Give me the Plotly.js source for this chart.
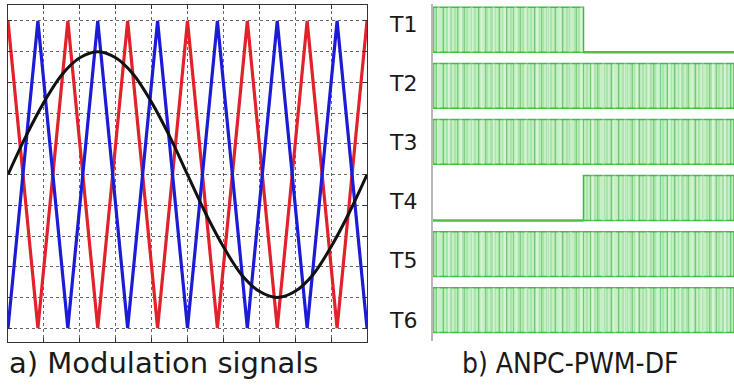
<!DOCTYPE html>
<html>
<head>
<meta charset="utf-8">
<script src="https://cdn.plot.ly/plotly-3.0.1.min.js"></script>
<style>html,body{margin:0;padding:0;background:#fff;}#chart{width:734px;height:386px;}</style>
</head>
<body>
<div id="chart"></div>
<script>
// ---- a) Modulation signals ----
const carrierX = [0, 0.833, 1.667, 2.5, 3.333, 4.167, 5, 5.833, 6.667, 7.5, 8.333, 9.167, 10];
const carrierRed = [1, -1, 1, -1, 1, -1, 1, -1, 1, -1, 1, -1, 1];
const carrierBlue = [-1, 1, -1, 1, -1, 1, -1, 1, -1, 1, -1, 1, -1];
const refX = [0, 0.5, 1, 1.5, 2, 2.5, 3, 3.5, 4, 4.5, 5, 5.5, 6, 6.5, 7, 7.5, 8, 8.5, 9, 9.5, 10];
const refY = [0, 0.25, 0.47, 0.65, 0.76, 0.80, 0.76, 0.65, 0.47, 0.25, 0, -0.25, -0.47, -0.65, -0.76, -0.80, -0.76, -0.65, -0.47, -0.25, 0];

// ---- b) ANPC-PWM-DF gate signals ----
const gates = ['T1', 'T2', 'T3', 'T4', 'T5', 'T6'];
const switchFrom = [0, 0, 0, 0.5, 0, 0];
const switchTo = [0.5, 1, 1, 1, 1, 1];
const offFrom = [0.5, null, null, 0, null, null];
const offTo = [1, null, null, 0.5, null, null];

const W = 734, H = 386;
const px = v => v / W;
const py = v => 1 - v / H;

const traces = [];
traces.push({x: carrierX, y: carrierRed, type: 'scatter', mode: 'lines',
  line: {color: '#e2222a', width: 3.2}, xaxis: 'x', yaxis: 'y', hoverinfo: 'skip'});
traces.push({x: carrierX, y: carrierBlue, type: 'scatter', mode: 'lines',
  line: {color: '#1c1cd6', width: 3.2}, xaxis: 'x', yaxis: 'y', hoverinfo: 'skip'});
traces.push({x: refX, y: refY, type: 'scatter', mode: 'lines',
  line: {color: '#111111', width: 3, shape: 'spline'}, xaxis: 'x', yaxis: 'y', hoverinfo: 'skip'});

const rows = gates.map((g, i) => i + 1);
const lens = switchTo.map((t, i) => t - switchFrom[i]);

traces.push({type: 'bar', orientation: 'h', y: rows, x: lens, base: switchFrom,
  width: 0.8, xaxis: 'x2', yaxis: 'y2', hoverinfo: 'skip',
  marker: {color: '#c6efc6', line: {color: '#44bb44', width: 1.5},
    pattern: {shape: '|', fgcolor: '#66d066', size: 4, solidity: 0.3, fillmode: 'overlay'}}});
traces.push({type: 'bar', orientation: 'h', y: rows, x: lens, base: switchFrom,
  width: 0.8, xaxis: 'x2', yaxis: 'y2', hoverinfo: 'skip',
  marker: {color: 'rgba(0,0,0,0)', line: {width: 0},
    pattern: {shape: '|', fgcolor: '#3aae3a', size: 7, solidity: 0.18, fillmode: 'overlay'}}});
traces.push({type: 'bar', orientation: 'h', y: rows, x: lens, base: switchFrom,
  width: 0.8, xaxis: 'x2', yaxis: 'y2', hoverinfo: 'skip',
  marker: {color: 'rgba(0,0,0,0)', line: {width: 0},
    pattern: {shape: '|', fgcolor: '#ecfaec', size: 11, solidity: 0.25, fillmode: 'overlay'}}});

gates.forEach((g, i) => {
  if (offFrom[i] !== null) {
    traces.push({type: 'scatter', mode: 'lines', x: [offFrom[i], offTo[i]], y: [rows[i] + 0.4, rows[i] + 0.4],
      line: {color: '#4cbf4c', width: 2.5}, xaxis: 'x2', yaxis: 'y2', hoverinfo: 'skip'});
  }
});

const annotations = gates.map((g, i) => ({
  text: g, xref: 'paper', yref: 'paper', x: px(387), y: py(24.5 + 59.1 * i), xanchor: 'left', yanchor: 'middle',
  showarrow: false, font: {family: 'DejaVu Sans, Arial, sans-serif', size: 22, color: '#1a1a1a'}
}));
annotations.push({text: 'a) Modulation signals', xref: 'paper', yref: 'paper', x: px(7), y: py(363),
  xanchor: 'left', yanchor: 'middle', showarrow: false,
  font: {family: 'DejaVu Sans, Arial, sans-serif', size: 29, color: '#1a1a1a'}});
annotations.push({text: 'b) ANPC-PWM-DF', xref: 'paper', yref: 'paper', x: px(460), y: py(363),
  xanchor: 'left', yanchor: 'middle', showarrow: false,
  font: {family: 'DejaVu Sans Condensed, Liberation Sans Narrow, Liberation Sans, sans-serif', size: 28, color: '#1a1a1a'}});

const layout = {
  width: W, height: H, margin: {l: 0, r: 0, t: 0, b: 0},
  paper_bgcolor: '#ffffff', plot_bgcolor: '#ffffff', showlegend: false, barmode: 'overlay',
  xaxis: {domain: [px(8), px(367)], range: [0, 10], dtick: 1, tick0: 0, showgrid: true,
    gridcolor: '#666666', griddash: 'dot', gridwidth: 1, zeroline: false,
    showline: true, linecolor: '#333333', linewidth: 1, mirror: 'ticks',
    ticks: 'inside', ticklen: 4, tickcolor: '#333333', showticklabels: false, fixedrange: true},
  yaxis: {domain: [py(342), py(5)], range: [-1.09, 1.104], dtick: 0.2, tick0: 0, showgrid: true,
    gridcolor: '#666666', griddash: 'dot', gridwidth: 1, zeroline: false,
    showline: true, linecolor: '#333333', linewidth: 1, mirror: 'ticks',
    ticks: 'inside', ticklen: 4, tickcolor: '#333333', showticklabels: false, fixedrange: true},
  xaxis2: {domain: [px(433), 1], range: [0, 1], anchor: 'y2', showgrid: false, zeroline: false,
    showline: false, showticklabels: false, ticks: '', fixedrange: true},
  yaxis2: {domain: [py(341), py(4)], range: [6.55, 0.54], anchor: 'x2', showgrid: false, zeroline: false,
    showline: true, linecolor: '#b8b8b8', linewidth: 2, showticklabels: false, ticks: '', fixedrange: true},
  annotations: annotations
};

Plotly.newPlot('chart', traces, layout, {staticPlot: true, displayModeBar: false});
</script>
</body>
</html>
